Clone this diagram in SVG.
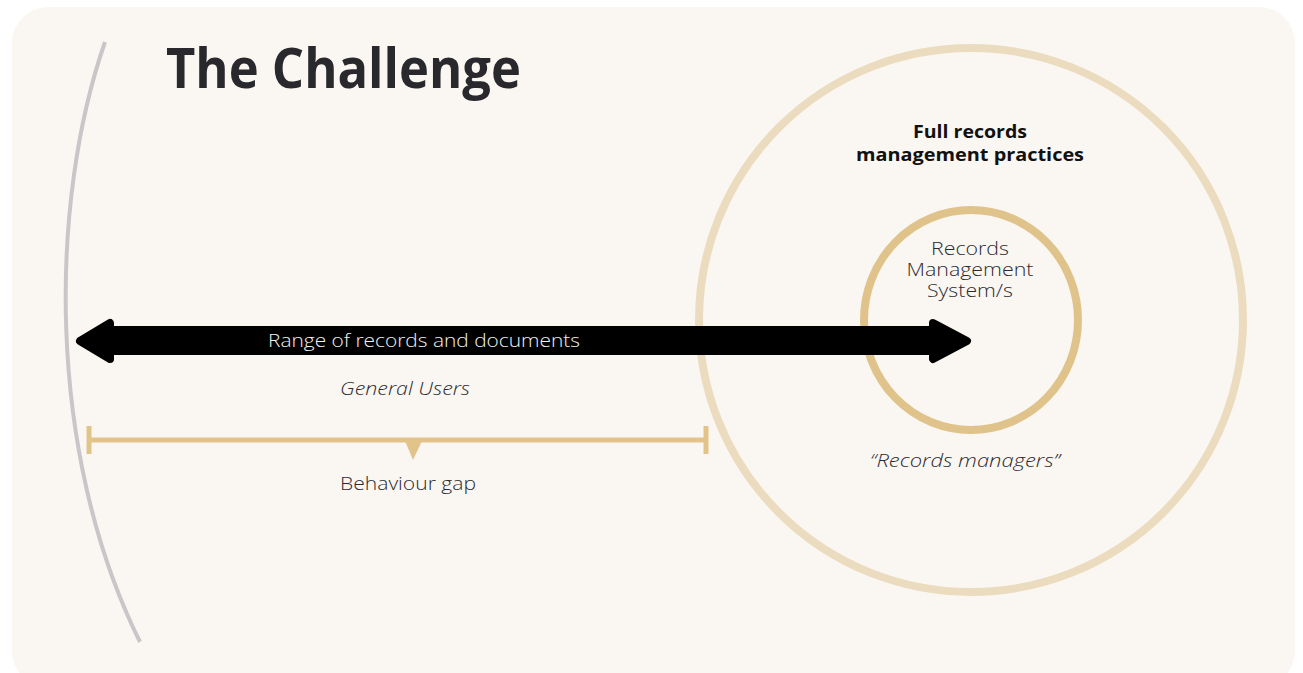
<svg xmlns="http://www.w3.org/2000/svg" width="1303" height="673" viewBox="0 0 1303 673">
<style>
.t{font-family:"Open Sans","Noto Sans","Liberation Sans",sans-serif;}
.lbl{font-size:18px;font-weight:300;fill:#2b2a30;}
.it{font-style:italic;}
.bold{font-weight:700;fill:#111;font-size:17px;}
.gold{stroke:#e2c48b;fill:none;}
</style>
<rect x="0" y="0" width="1303" height="673" fill="#ffffff"/>
<rect id="panel" x="12" y="7" width="1283" height="680" rx="36" fill="#faf7f2"/>
<path id="arc" d="M105,42 C50,200 45,450 140,642" fill="none" stroke="#c8c6c9" stroke-width="4"/>
<g id="title"><text class="t" x="166" y="88" font-size="55" font-weight="700" fill="#29282d" textLength="355" lengthAdjust="spacingAndGlyphs">The Challenge</text></g>
<g id="outer">
<circle cx="971" cy="320" r="272" fill="none" stroke="#ecdcbf" stroke-width="8"/>
<text class="t bold" x="970" y="138" text-anchor="middle" textLength="114" lengthAdjust="spacingAndGlyphs">Full records</text>
<text class="t bold" x="970" y="161" text-anchor="middle" textLength="228" lengthAdjust="spacingAndGlyphs">management practices</text>
<text class="t lbl it" x="965" y="467" text-anchor="middle" textLength="190" lengthAdjust="spacingAndGlyphs">“Records managers”</text>
</g>
<g id="inner">
<ellipse cx="971" cy="320" rx="107" ry="110" fill="none" stroke="#e0c38a" stroke-width="8"/>
<text class="t lbl" x="970" y="255" text-anchor="middle" textLength="78" lengthAdjust="spacingAndGlyphs">Records</text>
<text class="t lbl" x="970" y="276" text-anchor="middle" textLength="127" lengthAdjust="spacingAndGlyphs">Management</text>
<text class="t lbl" x="970" y="297" text-anchor="middle" textLength="86" lengthAdjust="spacingAndGlyphs">System/s</text>
</g>
<g id="connectors">
<path id="range-arrow" d="M80,341 L110,323 L110,330 L933,330 L933,323 L967,341 L933,359 L933,351 L110,351 L110,359 Z" fill="#000" stroke="#000" stroke-width="8" stroke-linejoin="round"/>
<text class="t lbl" x="268" y="347" style="fill:#f2f2f2" textLength="312" lengthAdjust="spacingAndGlyphs">Range of records and documents</text>
<g id="gap">
<line class="gold" x1="89" y1="440" x2="706" y2="440" stroke-width="5"/>
<line class="gold" x1="89" y1="426" x2="89" y2="454" stroke-width="5"/>
<line class="gold" x1="706" y1="426" x2="706" y2="454" stroke-width="5"/>
<polygon points="405,441 422,441 413,460" fill="#e2c48b"/>
</g>
</g>
<text class="t lbl it" x="405" y="395" text-anchor="middle" textLength="130" lengthAdjust="spacingAndGlyphs">General Users</text>
<text class="t lbl" x="408" y="490" text-anchor="middle" textLength="136" lengthAdjust="spacingAndGlyphs">Behaviour gap</text>
</svg>
